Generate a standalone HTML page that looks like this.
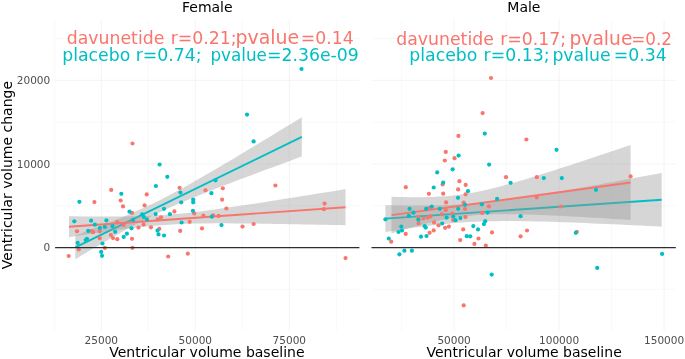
<!DOCTYPE html>
<html lang="en"><head><meta charset="utf-8"><title>Ventricular volume change vs baseline</title>
<style>html,body{margin:0;padding:0;background:#fff}svg{display:block;will-change:transform}</style></head>
<body>
<svg width="685" height="359" viewBox="0 0 685 359" font-family="'DejaVu Sans', 'Liberation Sans', sans-serif">
<rect width="685" height="359" fill="#fff"/>
<line x1="55.5" x2="359.4" y1="289.30" y2="289.30" stroke="#ebebeb" stroke-width="0.36"/>
<line x1="55.5" x2="359.4" y1="247.50" y2="247.50" stroke="#ebebeb" stroke-width="0.62"/>
<line x1="55.5" x2="359.4" y1="205.70" y2="205.70" stroke="#ebebeb" stroke-width="0.36"/>
<line x1="55.5" x2="359.4" y1="163.90" y2="163.90" stroke="#ebebeb" stroke-width="0.62"/>
<line x1="55.5" x2="359.4" y1="122.10" y2="122.10" stroke="#ebebeb" stroke-width="0.36"/>
<line x1="55.5" x2="359.4" y1="80.30" y2="80.30" stroke="#ebebeb" stroke-width="0.62"/>
<line x1="55.5" x2="359.4" y1="38.50" y2="38.50" stroke="#ebebeb" stroke-width="0.36"/>
<line x1="101.30" x2="101.30" y1="19.5" y2="331.0" stroke="#ebebeb" stroke-width="0.62"/>
<line x1="148.30" x2="148.30" y1="19.5" y2="331.0" stroke="#ebebeb" stroke-width="0.36"/>
<line x1="195.30" x2="195.30" y1="19.5" y2="331.0" stroke="#ebebeb" stroke-width="0.62"/>
<line x1="242.30" x2="242.30" y1="19.5" y2="331.0" stroke="#ebebeb" stroke-width="0.36"/>
<line x1="289.30" x2="289.30" y1="19.5" y2="331.0" stroke="#ebebeb" stroke-width="0.62"/>
<line x1="336.30" x2="336.30" y1="19.5" y2="331.0" stroke="#ebebeb" stroke-width="0.36"/>
<line x1="371.9" x2="675.8" y1="289.30" y2="289.30" stroke="#ebebeb" stroke-width="0.36"/>
<line x1="371.9" x2="675.8" y1="247.50" y2="247.50" stroke="#ebebeb" stroke-width="0.62"/>
<line x1="371.9" x2="675.8" y1="205.70" y2="205.70" stroke="#ebebeb" stroke-width="0.36"/>
<line x1="371.9" x2="675.8" y1="163.90" y2="163.90" stroke="#ebebeb" stroke-width="0.62"/>
<line x1="371.9" x2="675.8" y1="122.10" y2="122.10" stroke="#ebebeb" stroke-width="0.36"/>
<line x1="371.9" x2="675.8" y1="80.30" y2="80.30" stroke="#ebebeb" stroke-width="0.62"/>
<line x1="371.9" x2="675.8" y1="38.50" y2="38.50" stroke="#ebebeb" stroke-width="0.36"/>
<line x1="401.60" x2="401.60" y1="19.5" y2="331.0" stroke="#ebebeb" stroke-width="0.36"/>
<line x1="454.10" x2="454.10" y1="19.5" y2="331.0" stroke="#ebebeb" stroke-width="0.62"/>
<line x1="506.60" x2="506.60" y1="19.5" y2="331.0" stroke="#ebebeb" stroke-width="0.36"/>
<line x1="559.10" x2="559.10" y1="19.5" y2="331.0" stroke="#ebebeb" stroke-width="0.62"/>
<line x1="611.60" x2="611.60" y1="19.5" y2="331.0" stroke="#ebebeb" stroke-width="0.36"/>
<line x1="664.10" x2="664.10" y1="19.5" y2="331.0" stroke="#ebebeb" stroke-width="0.62"/>
<line x1="54.8" x2="54.8" y1="19.5" y2="331.0" stroke="#ebebeb" stroke-width="0.3"/>
<path d="M75.3,235.6 L81.0,233.5 L86.6,231.3 L92.3,229.1 L97.9,226.9 L103.6,224.7 L109.3,222.5 L114.9,220.2 L120.6,217.9 L126.3,215.5 L131.9,213.1 L137.6,210.6 L143.2,208.1 L148.9,205.4 L154.6,202.7 L160.2,199.9 L165.9,197.0 L171.6,194.1 L177.2,191.0 L182.9,187.9 L188.6,184.8 L194.2,181.6 L199.9,178.3 L205.5,175.1 L211.2,171.8 L216.9,168.4 L222.5,165.1 L228.2,161.7 L233.9,158.4 L239.5,155.0 L245.2,151.6 L250.8,148.2 L256.5,144.8 L262.2,141.3 L267.8,137.9 L273.5,134.5 L279.1,131.0 L284.8,127.6 L290.5,124.2 L296.1,120.7 L301.8,117.3 L301.8,156.5 L296.1,158.6 L290.5,160.7 L284.8,162.8 L279.1,164.9 L273.5,166.9 L267.8,169.0 L262.2,171.1 L256.5,173.2 L250.8,175.4 L245.2,177.5 L239.5,179.6 L233.9,181.7 L228.2,183.9 L222.5,186.1 L216.9,188.2 L211.2,190.4 L205.5,192.7 L199.9,194.9 L194.2,197.2 L188.6,199.5 L182.9,201.9 L177.2,204.3 L171.6,206.8 L165.9,209.4 L160.2,212.0 L154.6,214.7 L148.9,217.5 L143.2,220.4 L137.6,223.4 L131.9,226.5 L126.3,229.6 L120.6,232.7 L114.9,235.9 L109.3,239.2 L103.6,242.5 L97.9,245.8 L92.3,249.1 L86.6,252.4 L81.0,255.8 L75.3,259.2Z" fill="#999999" fill-opacity="0.4"/>
<line x1="75.3" y1="247.4" x2="301.8" y2="136.9" stroke="#00BFC4" stroke-width="1.9"/>
<path d="M69.0,216.2 L75.9,216.3 L82.8,216.4 L89.7,216.4 L96.7,216.5 L103.6,216.5 L110.5,216.5 L117.4,216.5 L124.3,216.4 L131.2,216.3 L138.1,216.2 L145.0,216.0 L151.9,215.7 L158.9,215.3 L165.8,214.9 L172.7,214.3 L179.6,213.7 L186.5,213.0 L193.4,212.2 L200.3,211.4 L207.2,210.5 L214.2,209.6 L221.1,208.6 L228.0,207.6 L234.9,206.6 L241.8,205.6 L248.7,204.5 L255.6,203.5 L262.6,202.4 L269.5,201.3 L276.4,200.2 L283.3,199.1 L290.2,198.0 L297.1,196.9 L304.0,195.8 L310.9,194.7 L317.9,193.6 L324.8,192.5 L331.7,191.4 L338.6,190.2 L345.5,189.1 L345.5,225.3 L338.6,225.1 L331.7,225.0 L324.8,224.8 L317.9,224.7 L310.9,224.6 L304.0,224.4 L297.1,224.3 L290.2,224.2 L283.3,224.0 L276.4,223.9 L269.5,223.8 L262.6,223.7 L255.6,223.6 L248.7,223.5 L241.8,223.4 L234.9,223.4 L228.0,223.3 L221.1,223.3 L214.2,223.3 L207.2,223.4 L200.3,223.5 L193.4,223.6 L186.5,223.8 L179.6,224.1 L172.7,224.4 L165.8,224.9 L158.9,225.4 L151.9,226.0 L145.0,226.7 L138.1,227.5 L131.2,228.3 L124.3,229.2 L117.4,230.1 L110.5,231.0 L103.6,232.0 L96.7,233.0 L89.7,234.0 L82.8,235.1 L75.9,236.1 L69.0,237.2Z" fill="#999999" fill-opacity="0.4"/>
<line x1="69" y1="226.7" x2="345.5" y2="207.2" stroke="#F8766D" stroke-width="1.9"/>
<path d="M385.4,205.2 L392.3,205.3 L399.2,205.4 L406.1,205.5 L413.0,205.6 L419.9,205.6 L426.8,205.5 L433.8,205.4 L440.7,205.3 L447.6,205.0 L454.5,204.7 L461.4,204.3 L468.3,203.8 L475.2,203.2 L482.1,202.5 L489.0,201.8 L495.9,201.0 L502.8,200.1 L509.7,199.2 L516.6,198.2 L523.5,197.2 L530.5,196.2 L537.4,195.1 L544.3,194.0 L551.2,192.8 L558.1,191.7 L565.0,190.5 L571.9,189.3 L578.8,188.1 L585.7,186.9 L592.6,185.6 L599.5,184.4 L606.4,183.1 L613.3,181.9 L620.3,180.6 L627.2,179.3 L634.1,178.1 L641.0,176.8 L647.9,175.5 L654.8,174.2 L661.7,172.9 L661.7,226.7 L654.8,226.3 L647.9,226.0 L641.0,225.6 L634.1,225.3 L627.2,225.0 L620.3,224.6 L613.3,224.3 L606.4,224.0 L599.5,223.7 L592.6,223.4 L585.7,223.1 L578.8,222.8 L571.9,222.5 L565.0,222.3 L558.1,222.0 L551.2,221.8 L544.3,221.6 L537.4,221.4 L530.5,221.3 L523.5,221.2 L516.6,221.1 L509.7,221.1 L502.8,221.1 L495.9,221.2 L489.0,221.3 L482.1,221.5 L475.2,221.8 L468.3,222.1 L461.4,222.6 L454.5,223.1 L447.6,223.7 L440.7,224.4 L433.8,225.2 L426.8,226.0 L419.9,226.9 L413.0,227.8 L406.1,228.8 L399.2,229.9 L392.3,230.9 L385.4,232.0Z" fill="#999999" fill-opacity="0.4"/>
<line x1="385.4" y1="218.6" x2="661.7" y2="199.8" stroke="#00BFC4" stroke-width="1.9"/>
<path d="M391.5,196.8 L397.5,197.0 L403.5,197.1 L409.4,197.2 L415.4,197.2 L421.4,197.2 L427.4,197.1 L433.3,196.9 L439.3,196.6 L445.3,196.2 L451.3,195.7 L457.3,195.0 L463.2,194.2 L469.2,193.3 L475.2,192.2 L481.2,191.0 L487.1,189.7 L493.1,188.2 L499.1,186.7 L505.1,185.1 L511.1,183.4 L517.0,181.7 L523.0,180.0 L529.0,178.2 L535.0,176.3 L540.9,174.5 L546.9,172.6 L552.9,170.7 L558.9,168.8 L564.8,166.8 L570.8,164.9 L576.8,162.9 L582.8,161.0 L588.8,159.0 L594.7,157.0 L600.7,155.0 L606.7,153.0 L612.7,151.0 L618.6,149.0 L624.6,147.0 L630.6,145.0 L630.6,220.0 L624.6,219.6 L618.6,219.3 L612.7,218.9 L606.7,218.5 L600.7,218.1 L594.7,217.8 L588.8,217.4 L582.8,217.1 L576.8,216.7 L570.8,216.4 L564.8,216.1 L558.9,215.8 L552.9,215.5 L546.9,215.2 L540.9,215.0 L535.0,214.7 L529.0,214.5 L523.0,214.4 L517.0,214.2 L511.1,214.2 L505.1,214.1 L499.1,214.2 L493.1,214.3 L487.1,214.5 L481.2,214.8 L475.2,215.2 L469.2,215.7 L463.2,216.4 L457.3,217.2 L451.3,218.2 L445.3,219.3 L439.3,220.5 L433.3,221.9 L427.4,223.3 L421.4,224.8 L415.4,226.5 L409.4,228.1 L403.5,229.8 L397.5,231.6 L391.5,233.4Z" fill="#999999" fill-opacity="0.4"/>
<line x1="391.5" y1="215.1" x2="630.6" y2="182.5" stroke="#F8766D" stroke-width="1.9"/>
<g fill="#F8766D"><circle cx="132.5" cy="143.5" r="2.1"/><circle cx="111.2" cy="189.9" r="2.1"/><circle cx="146.7" cy="194.4" r="2.1"/><circle cx="120.7" cy="200.5" r="2.1"/><circle cx="94.4" cy="202.1" r="2.1"/><circle cx="123.0" cy="206.4" r="2.1"/><circle cx="144.6" cy="205.4" r="2.1"/><circle cx="132.0" cy="212.9" r="2.1"/><circle cx="161.0" cy="217.3" r="2.1"/><circle cx="157.8" cy="219.3" r="2.1"/><circle cx="117.3" cy="222.2" r="2.1"/><circle cx="143.6" cy="224.4" r="2.1"/><circle cx="77.0" cy="231.3" r="2.1"/><circle cx="91.6" cy="231.0" r="2.1"/><circle cx="93.2" cy="232.2" r="2.1"/><circle cx="99.7" cy="231.3" r="2.1"/><circle cx="110.9" cy="235.0" r="2.1"/><circle cx="113.0" cy="238.1" r="2.1"/><circle cx="99.7" cy="238.2" r="2.1"/><circle cx="104.8" cy="247.9" r="2.1"/><circle cx="78.7" cy="249.4" r="2.1"/><circle cx="68.7" cy="256.0" r="2.1"/><circle cx="123.7" cy="225.1" r="2.1"/><circle cx="138.5" cy="227.6" r="2.1"/><circle cx="151.0" cy="227.3" r="2.1"/><circle cx="159.3" cy="228.8" r="2.1"/><circle cx="117.3" cy="239.2" r="2.1"/><circle cx="132.0" cy="238.8" r="2.1"/><circle cx="132.4" cy="247.8" r="2.1"/><circle cx="168.2" cy="256.5" r="2.1"/><circle cx="205.5" cy="190.3" r="2.1"/><circle cx="222.1" cy="199.7" r="2.1"/><circle cx="226.4" cy="208.5" r="2.1"/><circle cx="194.2" cy="213.4" r="2.1"/><circle cx="174.4" cy="211.4" r="2.1"/><circle cx="203.4" cy="215.7" r="2.1"/><circle cx="213.1" cy="215.3" r="2.1"/><circle cx="218.6" cy="215.9" r="2.1"/><circle cx="189.7" cy="221.8" r="2.1"/><circle cx="202.0" cy="228.4" r="2.1"/><circle cx="242.5" cy="226.6" r="2.1"/><circle cx="253.6" cy="224.0" r="2.1"/><circle cx="180.2" cy="230.9" r="2.1"/><circle cx="187.8" cy="253.7" r="2.1"/><circle cx="179.6" cy="187.8" r="2.1"/><circle cx="222.8" cy="188.3" r="2.1"/><circle cx="275.4" cy="185.5" r="2.1"/><circle cx="324.6" cy="203.6" r="2.1"/><circle cx="323.9" cy="209.2" r="2.1"/><circle cx="345.5" cy="258.1" r="2.1"/></g>
<g fill="#00BFC4"><circle cx="159.6" cy="164.5" r="2.1"/><circle cx="167.3" cy="176.8" r="2.1"/><circle cx="155.9" cy="186.0" r="2.1"/><circle cx="121.3" cy="193.8" r="2.1"/><circle cx="79.4" cy="201.8" r="2.1"/><circle cx="74.3" cy="221.3" r="2.1"/><circle cx="91.1" cy="220.7" r="2.1"/><circle cx="94.9" cy="224.7" r="2.1"/><circle cx="106.4" cy="220.4" r="2.1"/><circle cx="99.9" cy="228.0" r="2.1"/><circle cx="104.9" cy="227.0" r="2.1"/><circle cx="112.5" cy="226.1" r="2.1"/><circle cx="88.2" cy="230.9" r="2.1"/><circle cx="115.2" cy="231.8" r="2.1"/><circle cx="85.7" cy="240.1" r="2.1"/><circle cx="87.0" cy="238.8" r="2.1"/><circle cx="77.7" cy="242.9" r="2.1"/><circle cx="102.5" cy="243.5" r="2.1"/><circle cx="101.2" cy="251.9" r="2.1"/><circle cx="102.0" cy="255.8" r="2.1"/><circle cx="129.5" cy="211.7" r="2.1"/><circle cx="164.0" cy="208.8" r="2.1"/><circle cx="155.6" cy="214.1" r="2.1"/><circle cx="169.9" cy="214.2" r="2.1"/><circle cx="142.2" cy="214.4" r="2.1"/><circle cx="143.7" cy="216.8" r="2.1"/><circle cx="146.9" cy="219.3" r="2.1"/><circle cx="133.1" cy="219.8" r="2.1"/><circle cx="131.5" cy="228.3" r="2.1"/><circle cx="157.5" cy="230.7" r="2.1"/><circle cx="158.5" cy="234.4" r="2.1"/><circle cx="164.0" cy="235.5" r="2.1"/><circle cx="126.9" cy="233.7" r="2.1"/><circle cx="123.7" cy="236.9" r="2.1"/><circle cx="180.4" cy="192.5" r="2.1"/><circle cx="211.4" cy="193.2" r="2.1"/><circle cx="193.2" cy="199.7" r="2.1"/><circle cx="193.2" cy="202.3" r="2.1"/><circle cx="181.2" cy="202.3" r="2.1"/><circle cx="192.9" cy="210.8" r="2.1"/><circle cx="211.8" cy="216.7" r="2.1"/><circle cx="181.6" cy="222.5" r="2.1"/><circle cx="221.5" cy="225.1" r="2.1"/><circle cx="247.0" cy="114.6" r="2.1"/><circle cx="253.6" cy="141.4" r="2.1"/><circle cx="215.5" cy="180.3" r="2.1"/><circle cx="301.5" cy="69.0" r="2.1"/></g>
<g fill="#F8766D"><circle cx="491.0" cy="78.0" r="2.1"/><circle cx="482.6" cy="113.1" r="2.1"/><circle cx="458.4" cy="135.9" r="2.1"/><circle cx="445.8" cy="151.9" r="2.1"/><circle cx="454.5" cy="158.2" r="2.1"/><circle cx="444.8" cy="160.5" r="2.1"/><circle cx="459.4" cy="181.2" r="2.1"/><circle cx="442.6" cy="184.5" r="2.1"/><circle cx="465.7" cy="184.9" r="2.1"/><circle cx="405.8" cy="187.2" r="2.1"/><circle cx="458.1" cy="189.4" r="2.1"/><circle cx="428.9" cy="193.8" r="2.1"/><circle cx="443.2" cy="193.7" r="2.1"/><circle cx="465.6" cy="194.3" r="2.1"/><circle cx="428.9" cy="208.0" r="2.1"/><circle cx="418.0" cy="216.8" r="2.1"/><circle cx="430.5" cy="216.3" r="2.1"/><circle cx="427.8" cy="217.6" r="2.1"/><circle cx="423.4" cy="218.5" r="2.1"/><circle cx="434.1" cy="222.4" r="2.1"/><circle cx="418.6" cy="223.4" r="2.1"/><circle cx="446.1" cy="202.4" r="2.1"/><circle cx="463.7" cy="202.6" r="2.1"/><circle cx="488.9" cy="206.4" r="2.1"/><circle cx="465.0" cy="209.0" r="2.1"/><circle cx="445.8" cy="210.2" r="2.1"/><circle cx="482.2" cy="212.9" r="2.1"/><circle cx="441.9" cy="214.1" r="2.1"/><circle cx="452.4" cy="213.6" r="2.1"/><circle cx="465.5" cy="217.0" r="2.1"/><circle cx="453.1" cy="220.0" r="2.1"/><circle cx="438.5" cy="225.3" r="2.1"/><circle cx="405.7" cy="233.9" r="2.1"/><circle cx="433.7" cy="230.4" r="2.1"/><circle cx="429.6" cy="232.8" r="2.1"/><circle cx="391.2" cy="241.7" r="2.1"/><circle cx="445.1" cy="227.8" r="2.1"/><circle cx="448.9" cy="226.6" r="2.1"/><circle cx="463.2" cy="229.4" r="2.1"/><circle cx="492.0" cy="232.4" r="2.1"/><circle cx="478.5" cy="238.5" r="2.1"/><circle cx="460.2" cy="240.1" r="2.1"/><circle cx="474.4" cy="243.9" r="2.1"/><circle cx="485.8" cy="245.5" r="2.1"/><circle cx="463.7" cy="305.4" r="2.1"/><circle cx="526.4" cy="139.5" r="2.1"/><circle cx="506.0" cy="177.2" r="2.1"/><circle cx="536.8" cy="177.2" r="2.1"/><circle cx="536.8" cy="197.3" r="2.1"/><circle cx="560.6" cy="206.5" r="2.1"/><circle cx="527.0" cy="230.5" r="2.1"/><circle cx="520.6" cy="236.3" r="2.1"/><circle cx="576.8" cy="231.8" r="2.1"/><circle cx="630.6" cy="176.4" r="2.1"/></g>
<g fill="#00BFC4"><circle cx="484.8" cy="133.6" r="2.1"/><circle cx="458.6" cy="155.6" r="2.1"/><circle cx="489.1" cy="164.6" r="2.1"/><circle cx="452.6" cy="169.3" r="2.1"/><circle cx="437.2" cy="172.4" r="2.1"/><circle cx="443.2" cy="182.6" r="2.1"/><circle cx="433.7" cy="187.5" r="2.1"/><circle cx="468.0" cy="191.2" r="2.1"/><circle cx="409.6" cy="208.8" r="2.1"/><circle cx="426.1" cy="208.8" r="2.1"/><circle cx="431.7" cy="206.7" r="2.1"/><circle cx="439.8" cy="208.8" r="2.1"/><circle cx="413.5" cy="212.7" r="2.1"/><circle cx="408.8" cy="215.8" r="2.1"/><circle cx="418.4" cy="219.7" r="2.1"/><circle cx="385.4" cy="219.3" r="2.1"/><circle cx="458.0" cy="197.8" r="2.1"/><circle cx="465.0" cy="204.8" r="2.1"/><circle cx="481.9" cy="204.3" r="2.1"/><circle cx="497.1" cy="198.9" r="2.1"/><circle cx="458.2" cy="208.8" r="2.1"/><circle cx="487.5" cy="212.6" r="2.1"/><circle cx="453.3" cy="216.5" r="2.1"/><circle cx="446.6" cy="217.6" r="2.1"/><circle cx="460.4" cy="218.1" r="2.1"/><circle cx="455.6" cy="220.2" r="2.1"/><circle cx="485.2" cy="221.2" r="2.1"/><circle cx="442.2" cy="223.5" r="2.1"/><circle cx="401.3" cy="226.6" r="2.1"/><circle cx="424.6" cy="226.0" r="2.1"/><circle cx="425.7" cy="227.6" r="2.1"/><circle cx="402.0" cy="230.5" r="2.1"/><circle cx="398.5" cy="232.0" r="2.1"/><circle cx="426.5" cy="236.0" r="2.1"/><circle cx="421.0" cy="236.7" r="2.1"/><circle cx="388.8" cy="238.5" r="2.1"/><circle cx="404.4" cy="250.7" r="2.1"/><circle cx="411.9" cy="250.7" r="2.1"/><circle cx="399.4" cy="254.3" r="2.1"/><circle cx="483.9" cy="224.1" r="2.1"/><circle cx="473.3" cy="226.1" r="2.1"/><circle cx="478.0" cy="229.4" r="2.1"/><circle cx="466.8" cy="236.2" r="2.1"/><circle cx="470.2" cy="236.3" r="2.1"/><circle cx="491.7" cy="274.6" r="2.1"/><circle cx="556.5" cy="149.8" r="2.1"/><circle cx="543.8" cy="178.1" r="2.1"/><circle cx="561.8" cy="178.1" r="2.1"/><circle cx="510.6" cy="182.8" r="2.1"/><circle cx="596.0" cy="189.8" r="2.1"/><circle cx="520.6" cy="216.2" r="2.1"/><circle cx="575.8" cy="232.8" r="2.1"/><circle cx="597.2" cy="267.9" r="2.1"/><circle cx="662.1" cy="253.9" r="2.1"/></g>
<line x1="55.1" x2="359.4" y1="247.5" y2="247.5" stroke="#2e2e2e" stroke-width="1.25"/>
<line x1="371.5" x2="675.8" y1="247.5" y2="247.5" stroke="#2e2e2e" stroke-width="1.25"/>
<text x="50.2" y="251.4" text-anchor="end" fill="#4d4d4d" font-size="10.5">0</text>
<text x="50.2" y="167.8" text-anchor="end" fill="#4d4d4d" font-size="10.5">10000</text>
<text x="50.2" y="84.2" text-anchor="end" fill="#4d4d4d" font-size="10.5">20000</text>
<text x="101.3" y="343.5" text-anchor="middle" fill="#4d4d4d" font-size="10.5">25000</text>
<text x="195.3" y="343.5" text-anchor="middle" fill="#4d4d4d" font-size="10.5">50000</text>
<text x="289.3" y="343.5" text-anchor="middle" fill="#4d4d4d" font-size="10.5">75000</text>
<text x="454.1" y="343.5" text-anchor="middle" fill="#4d4d4d" font-size="10.5">50000</text>
<text x="559.1" y="343.5" text-anchor="middle" fill="#4d4d4d" font-size="10.5">100000</text>
<text x="664.1" y="343.5" text-anchor="middle" fill="#4d4d4d" font-size="10.5">150000</text>
<text x="207.3" y="11.7" text-anchor="middle" font-size="14.0" fill="#000">Female</text>
<text x="523.9" y="11.7" text-anchor="middle" font-size="14.0" fill="#000">Male</text>
<text x="206.9" y="357.0" text-anchor="middle" font-size="14.0" fill="#000">Ventricular volume baseline</text>
<text x="524.1" y="357.0" text-anchor="middle" font-size="14.0" fill="#000">Ventricular volume baseline</text>
<text transform="translate(12.1,175.1) rotate(-90)" text-anchor="middle" font-size="14.0" fill="#000">Ventricular volume change</text>
<text x="66.8" y="44.3" font-size="17.3" fill="#F8766D" xml:space="preserve">davunetide</text>
<text x="170.7" y="44.3" font-size="17.3" fill="#F8766D" xml:space="preserve">r=0.21;</text>
<text x="235.5" y="44.3" font-size="18.9" fill="#F8766D" xml:space="preserve">pvalue</text>
<text x="300.7" y="44.3" font-size="17.3" fill="#F8766D" xml:space="preserve">=0.14</text>
<text x="62.2" y="60.8" font-size="17.3" fill="#00BFC4" xml:space="preserve">placebo r=0.74;</text>
<text x="210.4" y="60.8" font-size="16.8" fill="#00BFC4" xml:space="preserve">pvalue</text>
<text x="267.0" y="60.8" font-size="17.3" fill="#00BFC4" xml:space="preserve">=2.36e-09</text>
<text x="396.3" y="45.0" font-size="17.3" fill="#F8766D" xml:space="preserve">davunetide</text>
<text x="500.2" y="45.0" font-size="17.3" fill="#F8766D" xml:space="preserve">r=0.17;</text>
<text x="569.5" y="45.0" font-size="18.7" fill="#F8766D" xml:space="preserve">pvalue</text>
<text x="631.2" y="45.0" font-size="16.8" fill="#F8766D" xml:space="preserve">=0.2</text>
<text x="409.3" y="61.1" font-size="17.3" fill="#00BFC4" xml:space="preserve">placebo</text>
<text x="483.6" y="61.1" font-size="17.3" fill="#00BFC4" xml:space="preserve">r=0.13;</text>
<text x="552.4" y="61.1" font-size="17.3" fill="#00BFC4" xml:space="preserve">pvalue</text>
<text x="613.8" y="61.1" font-size="17.3" fill="#00BFC4" xml:space="preserve">=0.34</text>
</svg>
</body></html>
